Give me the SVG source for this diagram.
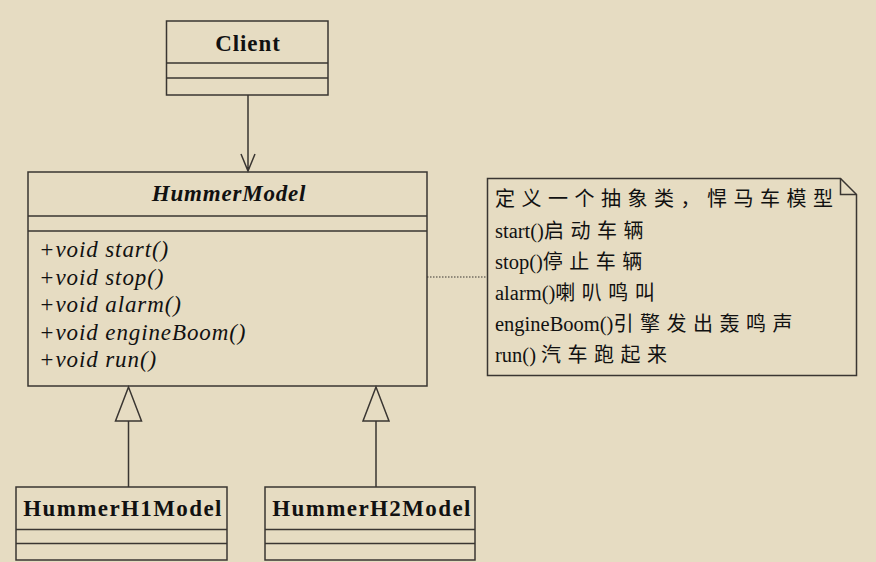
<svg xmlns="http://www.w3.org/2000/svg" width="876" height="562" viewBox="0 0 876 562">
<defs>
<style>
.box{fill:none;stroke:#3a3632;stroke-width:1.5}
.ln{fill:none;stroke:#3a3632;stroke-width:1.5}
.title{font-family:"Liberation Serif","Noto Sans CJK SC",serif;font-weight:bold;font-size:23px;fill:#111;text-anchor:middle}
.meth{font-family:"Liberation Serif","Noto Sans CJK SC",serif;font-style:italic;font-size:23px;letter-spacing:0.9px;fill:#111}
.note{font-family:"Liberation Serif","Noto Sans CJK SC",serif;font-size:20.5px;fill:#111}
.cjk{font-family:"Noto Sans CJK SC",sans-serif;font-size:20px;letter-spacing:6.5px}
</style>
</defs>
<rect width="876" height="562" fill="#e6dcc2"/>
<g id="connectors">
<path class="ln" d="M248 95 V171 M241 154 L248 171 L255 154"/>
<path class="ln" d="M128.5 487 V421 M376 487 V421"/>
<polygon class="ln" points="128.5,387 115.5,421 141.5,421" fill="#e6dcc2"/>
<polygon class="ln" points="376,387 363,421 389,421" fill="#e6dcc2"/>
<path d="M427 277 H487" fill="none" stroke="#3a3632" stroke-width="1.2" stroke-dasharray="1.5,1.5"/>
</g>
<g id="client">
<rect class="box" x="166.5" y="21" width="161.5" height="74"/>
<path class="ln" d="M166.5 63 H328 M166.5 78 H328"/>
<text class="title" x="248" y="51" letter-spacing="0.9">Client</text>
</g>
<g id="hummermodel">
<rect class="box" x="28" y="172" width="399" height="214"/>
<path class="ln" d="M28 216 H427 M28 231 H427"/>
<text class="title" x="229" y="201" font-style="italic" font-size="24" letter-spacing="0.8">HummerModel</text>
<text class="meth" x="39" y="257">+void start()</text>
<text class="meth" x="39" y="284.5">+void stop()</text>
<text class="meth" x="39" y="312">+void alarm()</text>
<text class="meth" x="39" y="339.5">+void engineBoom()</text>
<text class="meth" x="39" y="367">+void run()</text>
</g>
<g id="hummerh1">
<rect class="box" x="16" y="487" width="211" height="73"/>
<path class="ln" d="M16 529.5 H227 M16 543.5 H227"/>
<text class="title" x="123" y="516" letter-spacing="1.4">HummerH1Model</text>
</g>
<g id="hummerh2">
<rect class="box" x="265" y="487" width="210" height="73"/>
<path class="ln" d="M265 529.5 H475 M265 543.5 H475"/>
<text class="title" x="372" y="516" letter-spacing="1.4">HummerH2Model</text>
</g>
<g id="note">
<path class="box" d="M487.5 178.5 H840.5 L856.5 194.5 V375.5 H487.5 Z"/>
<path class="ln" d="M840.5 178.5 V194.5 H856.5"/>
<text class="note" x="495" y="206"><tspan class="cjk">定义一个抽象类，悍马车模型</tspan></text>
<text class="note" x="495" y="237.5">start()<tspan class="cjk">启动车辆</tspan></text>
<text class="note" x="495" y="268.5">stop()<tspan class="cjk">停止车辆</tspan></text>
<text class="note" x="495" y="299.5">alarm()<tspan class="cjk">喇叭鸣叫</tspan></text>
<text class="note" x="495" y="330.5">engineBoom()<tspan class="cjk">引擎发出轰鸣声</tspan></text>
<text class="note" x="495" y="361.5">run() <tspan class="cjk">汽车跑起来</tspan></text>
</g>
</svg>
